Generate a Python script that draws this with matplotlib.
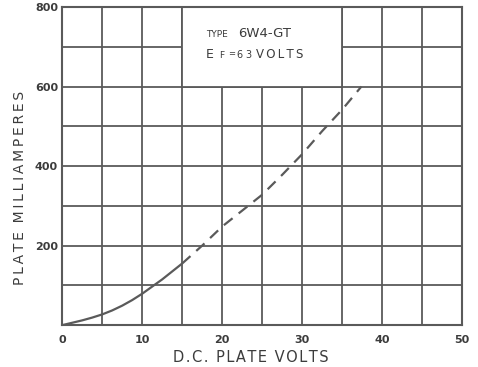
import matplotlib
matplotlib.use("Agg")
import matplotlib.pyplot as plt
import matplotlib.patches as patches

# curve (D.C. plate volts vs plate mA)
solid_volts = [0, 1.25, 2.5, 3.75, 5, 6.25, 7.5, 8.75, 10, 12.5, 15]
solid_ma = [0, 6, 12, 19, 27, 37, 49, 63, 79, 115, 155]
dashed_volts = [15, 17.5, 20, 22.5, 25, 27.5, 30, 32.5, 35, 37.4]
dashed_ma = [155, 200, 248, 288, 328, 378, 430, 488, 542, 600]

x_ticks = [0, 10, 20, 30, 40, 50]
y_ticks = [200, 400, 600, 800]

grey = "#5a5a5a"
text_grey = "#3c3c3c"
hair = "\u200a"

fig = plt.figure(figsize=(4.78, 3.67), dpi=100)
ax = fig.add_axes([0.130, 0.114, 0.837, 0.867])

# grid every 5 volts / 100 mA
for v in range(5, 50, 5):
    ax.axvline(v, color=grey, lw=1.3, zorder=1)
for m in range(100, 800, 100):
    ax.axhline(m, color=grey, lw=1.3, zorder=1)

# white label box covering the grid
box = patches.Rectangle((15, 600), 20, 200, facecolor="white",
                        edgecolor=grey, lw=1.3, zorder=2)
ax.add_patch(box)
kw = dict(color=text_grey, va="center", ha="left", zorder=3)
ax.text(18.0, 730, "TYPE", fontsize=6.5, **kw)
ax.text(22.0, 733, "6W4-GT", fontsize=9.5, **kw)
ax.text(18.0, 681, "E", fontsize=9, **kw)
ax.text(19.6, 679, "F", fontsize=6.5, **kw)
ax.text(20.75, 682, "=", fontsize=6, **kw)
ax.text(21.8, 679, "6", fontsize=7, **kw)
ax.text(22.9, 679, "3", fontsize=7, **kw)
ax.text(24.2, 680, (hair * 2).join("VOLTS"), fontsize=8.5, **kw)

ax.plot(solid_volts, solid_ma, color=grey, lw=1.6, zorder=4,
        solid_capstyle="butt")
ax.plot(dashed_volts, dashed_ma, color=grey, lw=1.6, zorder=4,
        dashes=(5, 3.5))

ax.set_xlim(0, 50)
ax.set_ylim(0, 800)
ax.set_xticks(x_ticks)
ax.set_yticks(y_ticks)
ax.tick_params(length=0, labelsize=8, labelcolor=text_grey)
ax.tick_params(axis="x", pad=7)
ax.tick_params(axis="y", pad=3)
for lab in ax.get_xticklabels() + ax.get_yticklabels():
    lab.set_fontweight("bold")

for s in ax.spines.values():
    s.set_color(grey)
    s.set_linewidth(1.5)

ax.set_xlabel(hair.join("D.C. PLATE VOLTS"), fontsize=10.5, color=text_grey)
ax.xaxis.label.set_va("center")
ax.xaxis.set_label_coords(0.472, -0.102)
ylab = (hair * 2).join("PLATE") + "  " + (hair * 2).join("MILLIAMPERES")
ax.set_ylabel(ylab, fontsize=10, color=text_grey)
ax.yaxis.label.set_va("center")
ax.yaxis.set_label_coords(-0.105, 0.43)

fig.savefig("out.png", dpi=100, facecolor="white")
